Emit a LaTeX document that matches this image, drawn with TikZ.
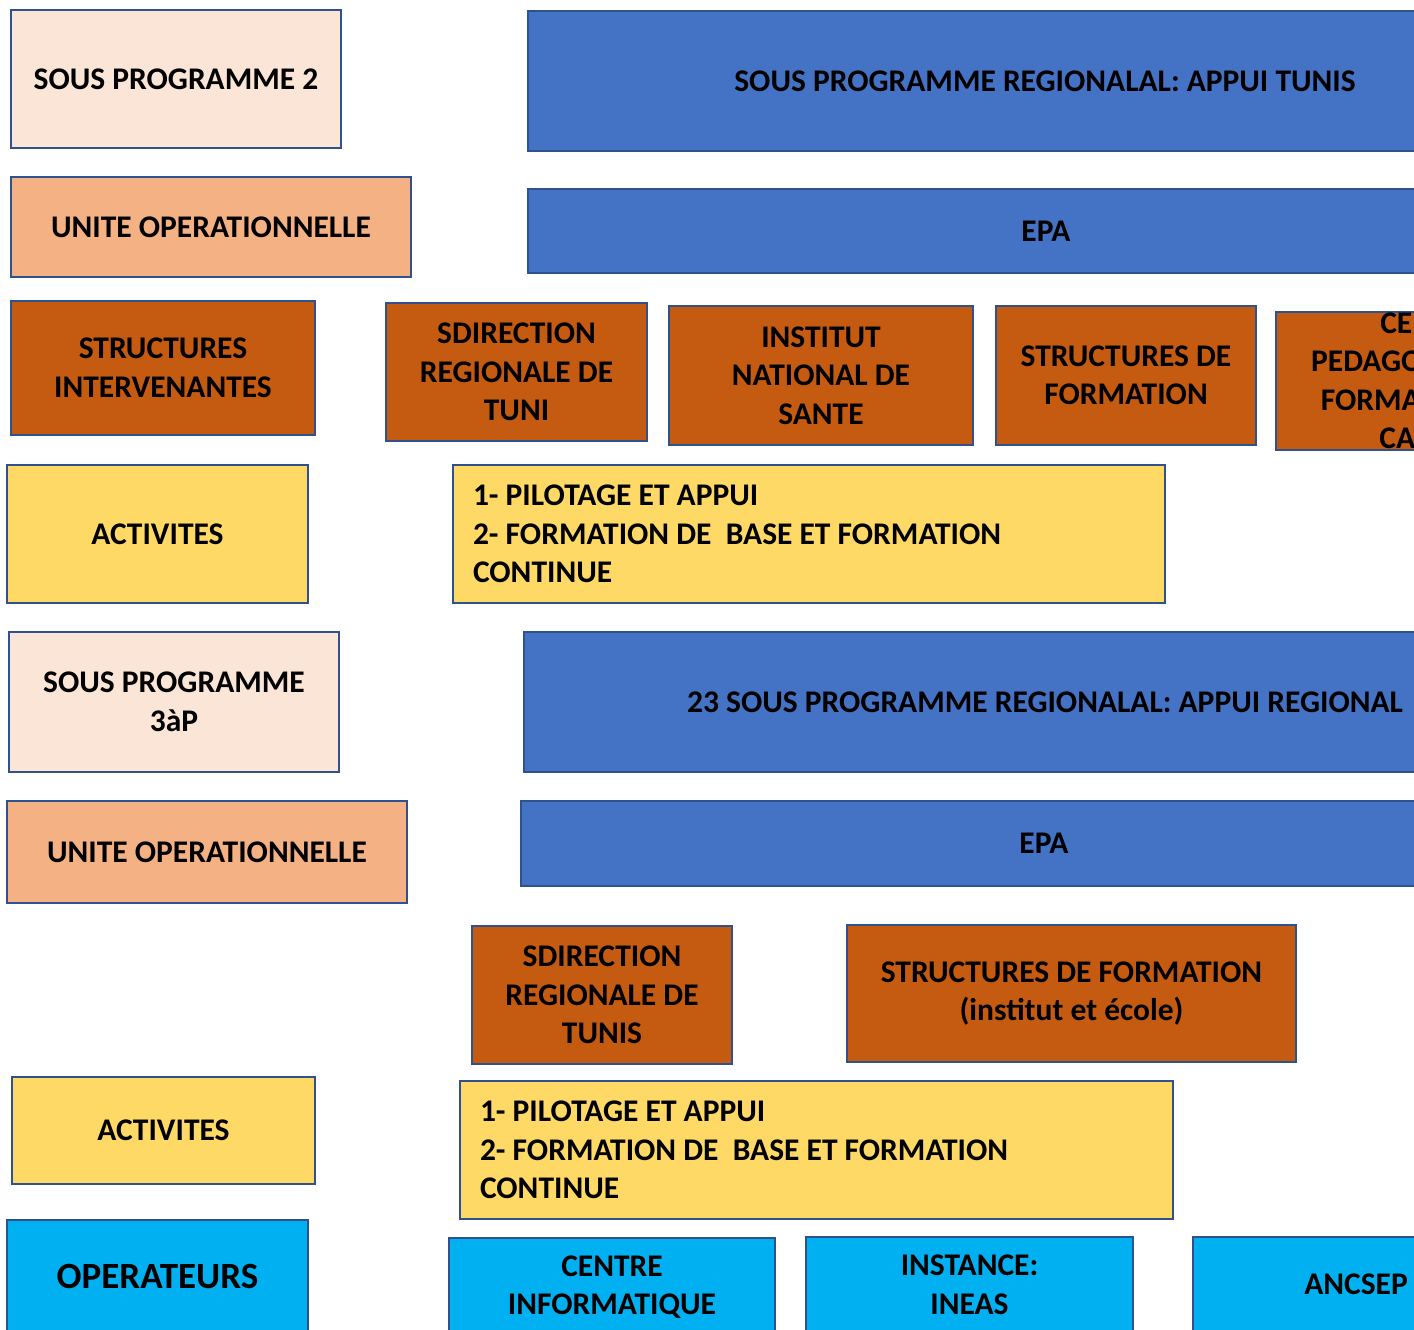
\documentclass[tikz,border=0pt]{standalone}
\usepackage{fontspec}
\setmainfont{Carlito}
\usepackage{xcolor}
\usetikzlibrary{positioning}
\definecolor{PaleOrange}{HTML}{FBE5D6}
\definecolor{SoftOrange}{HTML}{F4B183}
\definecolor{RustOrange}{HTML}{C55A11}
\definecolor{Gold}{HTML}{FFD966}
\definecolor{RoyalBlue}{HTML}{4472C4}
\definecolor{SkyCyan}{HTML}{00B0F0}
\definecolor{EdgeBlue}{HTML}{2F528F}

\begin{document}
\begin{tikzpicture}[
          x=1pt, y=-1pt,
          box/.style={rectangle, draw=EdgeBlue, line width=2pt, align=center, inner sep=0pt, font=\fontsize{31.5}{38.5}\selectfont\bfseries},
          prog/.style={box, fill=PaleOrange},
          unite/.style={box, fill=SoftOrange},
          struct/.style={box, fill=RustOrange},
          activ/.style={box, fill=Gold},
          listbox/.style={activ, align=flush left, inner xsep=20pt},
          epa/.style={box, fill=RoyalBlue},
          oper/.style={box, fill=SkyCyan}
        ]
          \useasboundingbox (0,0) rectangle (1414,1330);
          \clip (0,0) rectangle (1414,1330);

          % premier sous programme
          \node (sp2) [prog, minimum width=330pt, minimum height=138pt] at (176,79) {SOUS PROGRAMME 2};
          \node (sprTunis) [epa, minimum width=1034pt, minimum height=140pt] at (1045,81) {SOUS PROGRAMME REGIONALAL: APPUI TUNIS};
          \node (uo1) [unite, minimum width=400pt, minimum height=100pt] at (211,227) {UNITE OPERATIONNELLE};
          \node (epa1) [epa, minimum width=1036pt, minimum height=84pt] at (1046,231) {EPA};
          \node (si1) [struct, minimum width=304pt, minimum height=134pt] at (163,368) {STRUCTURES\\INTERVENANTES};
          \node (sdr1) [struct, minimum width=261pt, minimum height=138pt] at (516.5,372) {SDIRECTION\\REGIONALE DE\\TUNI};
          \node (ins) [struct, minimum width=304pt, minimum height=139pt] at (821,375.5) {INSTITUT\\NATIONAL DE\\SANTE};
          \node (sf1) [struct, minimum width=260pt, minimum height=139pt] at (1126,375.5) {STRUCTURES DE\\FORMATION};
          \node (cpf) [struct, minimum width=310pt, minimum height=138pt] at (1431,381) {CENTRE\\PEDAGOGIQUE DE\\FORMATION DES\\CADRES};
          \node (act1) [activ, minimum width=301pt, minimum height=138pt] at (157.5,534) {ACTIVITES};
          \node (actTxt1) [listbox, text width=672pt, minimum height=138pt] at (809,534) {1- PILOTAGE ET APPUI\\2- FORMATION DE\ \ BASE ET FORMATION\\CONTINUE};

          % second sous programme
          \node (sp3) [prog, minimum width=330pt, minimum height=140pt] at (174,702) {SOUS PROGRAMME\\3àP};
          \node (sprReg) [epa, minimum width=1042pt, minimum height=140pt] at (1045,702) {23 SOUS PROGRAMME REGIONALAL: APPUI REGIONAL};
          \node (uo2) [unite, minimum width=400pt, minimum height=102pt] at (207,852) {UNITE OPERATIONNELLE};
          \node (epa2) [epa, minimum width=1046pt, minimum height=85pt] at (1044,843.5) {EPA};
          \node (sdr2) [struct, minimum width=260pt, minimum height=138pt] at (602,995) {SDIRECTION\\REGIONALE DE\\TUNIS};
          \node (sf2) [struct, minimum width=449pt, minimum height=137pt] at (1071.5,993.5) {STRUCTURES DE FORMATION\\{\mdseries\vphantom{S}}(institut et école)};
          \node (act2) [activ, minimum width=303pt, minimum height=107pt] at (163.5,1130.5) {ACTIVITES};
          \node (actTxt2) [listbox, text width=673pt, minimum height=138pt] at (816.5,1150) {1- PILOTAGE ET APPUI\\2- FORMATION DE\ \ BASE ET FORMATION\\CONTINUE};

          % operateurs
          \node (oper) [oper, minimum width=301pt, minimum height=112pt, font=\fontsize{37}{44}\selectfont\bfseries] at (157.5,1276) {OPERATEURS};
          \node (ci) [oper, minimum width=326pt, minimum height=98pt] at (612,1287) {CENTRE\\INFORMATIQUE};
          \node (ineas) [oper, minimum width=327pt, minimum height=96pt] at (969.5,1285) {INSTANCE:\\INEAS};
          \node (ancsep) [oper, minimum width=326pt, minimum height=94pt] at (1356,1284) {ANCSEP};
        \end{tikzpicture}
\end{document}
